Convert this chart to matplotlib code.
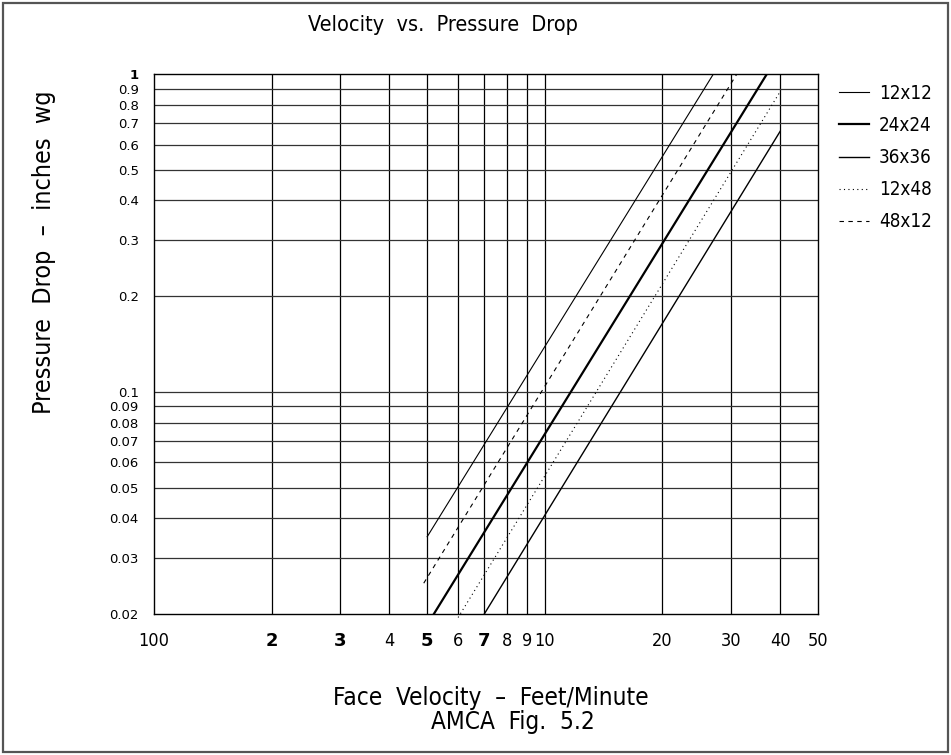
import matplotlib
matplotlib.use("Agg")
import matplotlib.pyplot as plt
from matplotlib.patches import Rectangle

# ---- data (log-log, pressure ~ velocity^2) ----
series_names = ['12x12', '24x24', '36x36', '12x48', '48x12']
x_12x12 = [500, 2700]
y_12x12 = [0.035, 1.0]
x_24x24 = [520, 3700]
y_24x24 = [0.02, 1.0]
x_36x36 = [700, 4000]
y_36x36 = [0.02, 0.66]
x_12x48 = [600, 4000]
y_12x48 = [0.0195, 0.88]
x_48x12 = [490, 3100]
y_48x12 = [0.025, 1.0]

x_ticks = [100, 200, 300, 400, 500, 600, 700, 800, 900, 1000, 2000, 3000, 4000, 5000]
x_tick_labels = ['100', '2', '3', '4', '5', '6', '7', '8', '9', '10', '20', '30', '40', '50']
x_bold = ['2', '3', '5', '7']
y_ticks = [0.02, 0.03, 0.04, 0.05, 0.06, 0.07, 0.08, 0.09, 0.1,
           0.2, 0.3, 0.4, 0.5, 0.6, 0.7, 0.8, 0.9, 1.0]
y_tick_labels = ['0.02', '0.03', '0.04', '0.05', '0.06', '0.07', '0.08', '0.09', '0.1',
                 '0.2', '0.3', '0.4', '0.5', '0.6', '0.7', '0.8', '0.9', '1']

# narrow "CAD" look
cad = dict(family='DejaVu Sans', stretch='condensed', weight='light')

fig = plt.figure(figsize=(9.51, 7.55), dpi=100)
ax = fig.add_axes([154/951, 141/755, 664/951, 540/755])
ax.set_xscale('log')
ax.set_yscale('log')
ax.set_xlim(100, 5000)
ax.set_ylim(0.02, 1.0)

# grid lines
for xv in x_ticks[1:-1]:
    ax.axvline(xv, color='black', lw=0.9, zorder=1)
for yv in y_ticks[1:-1]:
    ax.axhline(yv, color='#333333', lw=0.9, zorder=1)

# series
ax.plot(x_12x12, y_12x12, color='black', lw=0.8, label='12x12', zorder=3)
ax.plot(x_24x24, y_24x24, color='black', lw=1.6, label='24x24', zorder=3)
ax.plot(x_36x36, y_36x36, color='black', lw=1.0, label='36x36', zorder=3)
ax.plot(x_12x48, y_12x48, color='black', lw=0.8, linestyle=(0, (1, 3)), label='12x48',
        zorder=3, clip_on=False)
ax.plot(x_48x12, y_48x12, color='black', lw=0.8, linestyle=(0, (4, 4)), label='48x12', zorder=3)

# ticks
ax.minorticks_off()
ax.set_xticks(x_ticks)
ax.set_xticklabels(x_tick_labels, fontsize=13, **cad)
for lbl in ax.get_xticklabels():
    if lbl.get_text() in x_bold:
        lbl.set_fontweight('bold')
        lbl.set_fontstretch('normal')
ax.set_yticks(y_ticks)
ax.set_yticklabels(y_tick_labels, fontsize=9.5)
ax.get_yticklabels()[-1].set_fontweight('bold')
ax.tick_params(axis='x', length=0, pad=13)
ax.tick_params(axis='y', length=0, pad=11)
for sp in ax.spines.values():
    sp.set_linewidth(1.0)

# legend
ax.legend(loc='upper left', bbox_to_anchor=(822/951, 1 - 67/755),
          bbox_transform=fig.transFigure, frameon=False,
          handlelength=1.6, handletextpad=0.55, labelspacing=0.7,
          prop=dict(size=13.5, **cad))

# texts
fig.text(443/951, 1 - 25/755, 'Velocity  vs.  Pressure  Drop', ha='center', va='center',
         fontsize=15.5, **cad)
fig.text(491/951, 1 - 698/755, 'Face  Velocity  \u2013  Feet/Minute', ha='center', va='center',
         fontsize=17.5, **cad)
fig.text(513/951, 1 - 722/755, 'AMCA  Fig.  5.2', ha='center', va='center',
         fontsize=17.5, **cad)
fig.text(44/951, 1 - 252/755, 'Pressure  Drop  \u2013  inches  wg', ha='center', va='center',
         rotation=90, fontsize=18, **cad)

# outer frame
fig.add_artist(Rectangle((3/951, 3/755), 945/951, 749/755, transform=fig.transFigure,
                         fill=False, edgecolor='#555555', lw=1.6))

fig.savefig('out.png', dpi=100)
